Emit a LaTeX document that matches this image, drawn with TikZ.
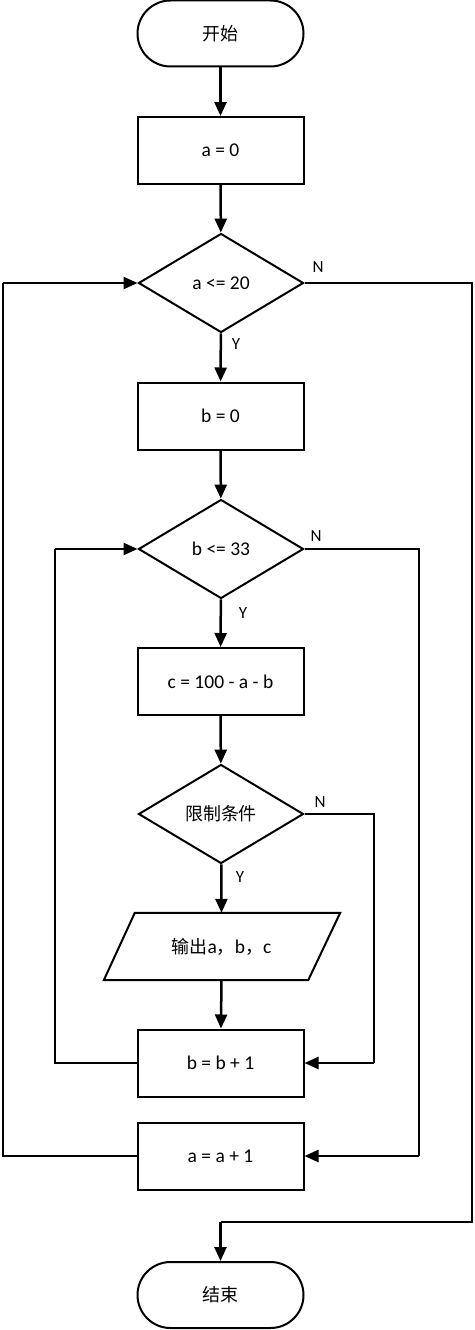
\documentclass[tikz,border=0pt]{standalone}
\usepackage{fontspec}
\setmainfont{Carlito}
\newfontfamily\cjk{Noto Sans CJK SC}[Scale=0.92]
\usetikzlibrary{shapes.geometric,arrows.meta}
\begin{document}
\begin{tikzpicture}[x=1pt,y=-1pt,
  every node/.style={font=\fontsize{19.5}{23}\selectfont},
  line/.style={line width=2.5pt},
  arr/.style={line width=2.5pt,-{Triangle[length=14pt,width=12pt]}},
  term/.style={draw,line width=2pt,rectangle,rounded corners=33pt,minimum width=166pt,minimum height=66pt,inner sep=0pt},
  proc/.style={draw,line width=2pt,rectangle,minimum width=166pt,minimum height=67pt,inner sep=0pt},
  dec/.style={draw,line width=2pt,diamond,minimum width=165pt,minimum height=99pt,inner sep=0pt},
  lbl/.style={font=\fontsize{17}{20}\selectfont}
]
\useasboundingbox (0,0) rectangle (474,1330);
\node[term] (start) at (220.5,33.5) {\cjk 开始};
\node[proc] (a0) at (220.5,150.5) {a = 0};
\node[dec] (d1) at (221,283) {a <= 20};
\node[proc] (b0) at (220.5,416) {b = 0};
\node[dec] (d2) at (221,549) {b <= 33};
\node[proc] (c) at (220.5,681.5) {c = 100 - a - b};
\node[dec] (d3) at (221,814) {\cjk 限制条件};
\node[minimum width=204pt,minimum height=67pt,inner sep=0pt] (out) at (221.5,946.5) {{\cjk 输出}a{\cjk ，}b{\cjk ，}c};
\draw[line width=2pt] ([xshift=15.5pt]out.north west) -- ([xshift=16.5pt]out.north east) -- ([xshift=-15.5pt]out.south east) -- ([xshift=-15.5pt]out.south west) -- cycle;
\node[proc] (bb) at (220.5,1063) {b = b + 1};
\node[proc] (aa) at (220.5,1156) {a = a + 1};
\node[term] (end) at (220.5,1295) {\cjk 结束};

\coordinate (l1) at (3,1156);
\coordinate (l1t) at (3,283);
\coordinate (l2) at (55,1063);
\coordinate (l2t) at (55,549);
\coordinate (r3) at (374,814);
\coordinate (r3b) at (374,1063);
\coordinate (r2) at (419,549);
\coordinate (r2b) at (419,1156);
\coordinate (r1) at (472,283);
\coordinate (r1b) at (472,1222);
\coordinate (e1) at (220.5,1222);

\draw[arr] (start) -- (a0);
\draw[arr] (a0) -- (d1);
\draw[arr] (d1) -- (b0);
\draw[arr] (b0) -- (d2);
\draw[arr] (d2) -- (c);
\draw[arr] (c) -- (d3);
\draw[arr] (d3) -- (out.north);
\draw[arr] (out.south) -- (bb);

\draw[line] (aa.west) -- (l1) -- (l1t);
\draw[arr] (l1t) -- (d1.west);
\draw[line] (bb.west) -- (l2) -- (l2t);
\draw[arr] (l2t) -- (d2.west);
\draw[line] (d3.east) -- (r3) -- (r3b);
\draw[arr] (r3b) -- (bb.east);
\draw[line] (d2.east) -- (r2) -- (r2b);
\draw[arr] (r2b) -- (aa.east);
\draw[line] (d1.east) -- (r1) -- (r1b) -- (e1);
\draw[arr] (e1) -- (end);

\node[lbl] (n1) at (318,267) {N};
\node[lbl] (y1) at (236,344) {Y};
\node[lbl] (n2) at (316,536) {N};
\node[lbl] (y2) at (243,613) {Y};
\node[lbl] (n3) at (320,802) {N};
\node[lbl] (y3) at (240,877) {Y};
\end{tikzpicture}
\end{document}
